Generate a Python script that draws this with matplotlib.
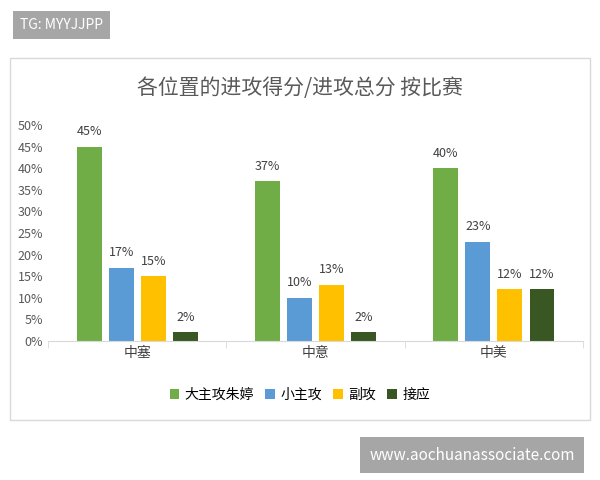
import matplotlib.pyplot as plt
from matplotlib.patches import Rectangle
import numpy as np

plt.rcParams['font.family'] = ['Noto Sans CJK SC', 'DejaVu Sans']

categories = ['中塞', '中意', '中美']
series_names = ['大主攻朱婷', '小主攻', '副攻', '接应']
values = [
    [45, 37, 40],
    [17, 10, 23],
    [15, 13, 12],
    [2, 2, 12],
]
colors = ['#70AD47', '#5B9BD5', '#FFC000', '#385723']

fig = plt.figure(figsize=(6, 4.8), dpi=100)

# chart panel border
fig.patches.append(Rectangle((10/600, 1-420/480), 580/600, 362/480, transform=fig.transFigure,
                             fill=False, edgecolor='#D9D9D9', lw=1))

ax = fig.add_axes([48/600, 1-341/480, 535/600, 216/480])
x = np.arange(len(categories))
offsets = [-0.27, -0.09, 0.09, 0.27]
for i, name in enumerate(series_names):
    bars = ax.bar(x + offsets[i], values[i], width=0.14, color=colors[i], label=name)
    for b, v in zip(bars, values[i]):
        ax.text(b.get_x() + b.get_width()/2, v + 2, f'{v}%', ha='center', va='bottom',
                fontsize=9, color='#404040')

ax.set_ylim(0, 50)
ax.set_xlim(-0.5, 2.5)
ax.set_yticks(range(0, 51, 5))
ax.set_yticklabels([f'{t}%' for t in range(0, 51, 5)], fontsize=9, color='#595959')
ax.set_xticks(x)
ax.set_xticklabels(categories, fontsize=10, color='#404040')
ax.set_xticks([-0.5, 0.5, 1.5, 2.5], minor=True)
ax.tick_params(axis='x', which='major', length=0)
ax.tick_params(axis='x', which='minor', length=5, color='#D9D9D9')
ax.tick_params(axis='y', length=0)
for s in ['top', 'right', 'left']:
    ax.spines[s].set_visible(False)
ax.spines['bottom'].set_color('#D9D9D9')

fig.text(0.5, 1-88/480, '各位置的进攻得分/进攻总分 按比赛', ha='center', va='center',
         fontsize=15, color='#595959')
fig.legend(loc='center', bbox_to_anchor=(0.5, 1-395/480), ncol=4, frameon=False,
           fontsize=10, handlelength=0.7, handleheight=0.7, columnspacing=0.8, handletextpad=0.4)

# watermark boxes
fig.text(20/600, 1-25/480, 'TG: MYYJJPP', ha='left', va='center', fontsize=10, color='white',
         bbox=dict(boxstyle='square,pad=0.5', fc='#A6A6A6', ec='none'))
fig.text(472/600, 1-455/480, 'www.aochuanassociate.com', ha='center', va='center', fontsize=11,
         color='white', bbox=dict(boxstyle='square,pad=0.6', fc='#A6A6A6', ec='none'))

fig.savefig('out.png', dpi=100)
